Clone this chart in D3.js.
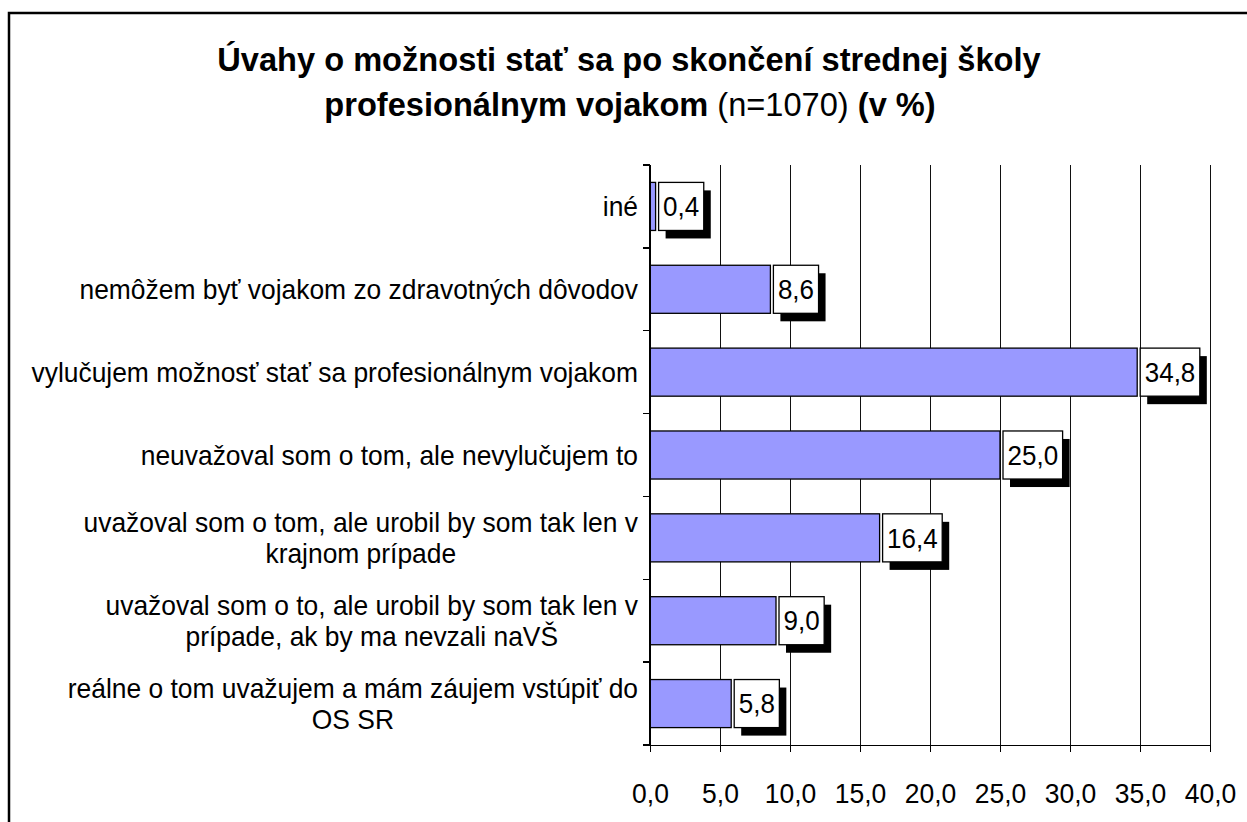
<!DOCTYPE html>
<html>
<head>
<meta charset="utf-8">
<script src="https://cdn.jsdelivr.net/npm/d3@7"></script>
<style>
  body { margin: 0; background: #fff; }
  svg { display: block; font-family: Arial, "Liberation Sans", sans-serif; }
  .grid line { stroke: #111; stroke-width: 1; shape-rendering: crispEdges; }
  .bar { fill: #9999ff; stroke: #000; stroke-width: 1.3; }
  .axis line, .axis path { stroke: #000; stroke-width: 1.5; shape-rendering: crispEdges; }
</style>
</head>
<body>
<svg id="chart" width="1247" height="822"></svg>
<script>

// categories, top to bottom ('|' = line break)
var categories = [
  'iné',
  'nemôžem byť vojakom zo zdravotných dôvodov',
  'vylučujem možnosť stať sa profesionálnym vojakom',
  'neuvažoval som o tom, ale nevylučujem to',
  'uvažoval som o tom, ale urobil by som tak len v|krajnom prípade',
  'uvažoval som o to, ale urobil by som tak len v|prípade, ak by ma nevzali naVŠ',
  'reálne o tom uvažujem a mám záujem vstúpiť do|OS SR'
];

var values = [0.4, 8.6, 34.8, 25.0, 16.4, 9.0, 5.8];

var xTicks = [0, 5, 10, 15, 20, 25, 30, 35, 40];

var titleLine1 = 'Úvahy o možnosti stať sa po skončení strednej školy',
    titleLine2 = [
      { text: 'profesionálnym vojakom', bold: true },
      { text: ' (n=1070) ', bold: false },
      { text: '(v %)', bold: true }
    ];

var STRETCH = 1.04,   // text in the source is a touch taller than wide
    PLOT = { left: 650, right: 1210, top: 165, bottom: 745 },
    LABEL_RIGHT = 638;

var skLocale = d3.formatLocale({ decimal: ',', thousands: ' ', grouping: [3], currency: ['', ' €'] }),
    fmt = skLocale.format('.1f');

var svg = d3.select('#chart');

// outer frame, runs off the right and bottom edges
svg.append('rect')
  .attr('x', 9).attr('y', 13)
  .attr('width', 1400).attr('height', 1000)
  .attr('fill', 'none')
  .attr('stroke', '#000')
  .attr('stroke-width', 2.5);

var x = d3.scaleLinear().domain([0, 40]).range([PLOT.left, PLOT.right]),
    y = d3.scaleBand().domain(d3.range(categories.length))
          .range([PLOT.top, PLOT.bottom])
          .paddingInner(0.42).paddingOuter(0.21);

// stretched text helper
var stretched = function(sel, tx, ty) {
  return sel.attr('transform', 'translate(' + tx + ',' + ty + ') scale(1,' + STRETCH + ')');
};

/** Title **/
stretched(svg.append('text'), 629, 71)
  .attr('text-anchor', 'middle')
  .attr('font-size', 32.6)
  .attr('font-weight', 'bold')
  .text(titleLine1);

var t2 = stretched(svg.append('text'), 630, 116)
  .attr('text-anchor', 'middle')
  .attr('font-size', 32.6);

t2.selectAll('tspan')
  .data(titleLine2)
  .enter().append('tspan')
    .attr('font-weight', function(d) { return d.bold ? 'bold' : 'normal'; })
    .style('white-space', 'pre')
    .text(function(d) { return d.text; });

/** Gridlines **/
svg.append('g').attr('class', 'grid')
  .selectAll('line')
  .data(xTicks.slice(1))
  .enter().append('line')
    .attr('x1', function(d) { return x(d); })
    .attr('x2', function(d) { return x(d); })
    .attr('y1', PLOT.top)
    .attr('y2', PLOT.bottom);

/** Bars **/
svg.append('g')
  .selectAll('rect')
  .data(values)
  .enter().append('rect')
    .attr('class', 'bar')
    .attr('x', x(0))
    .attr('y', function(d, i) { return y(i); })
    .attr('width', function(d) { return x(d) - x(0); })
    .attr('height', y.bandwidth());

/** Axes **/
var xAxis = d3.axisBottom(x)
      .tickValues(xTicks)
      .tickSize(7)
      .tickSizeOuter(0)
      .tickFormat(fmt),

    gx = svg.append('g')
      .attr('class', 'axis')
      .attr('transform', 'translate(0,' + PLOT.bottom + ')')
      .call(xAxis);

gx.selectAll('text')
  .attr('font-size', 26.5)
  .attr('fill', '#000')
  .attr('y', 0).attr('dy', 0)
  .attr('transform', 'translate(0,58) scale(1,' + STRETCH + ')');

// y axis: plain line with ticks at band boundaries
var gy = svg.append('g').attr('class', 'axis');

gy.append('line')
  .attr('x1', x(0)).attr('x2', x(0))
  .attr('y1', PLOT.top).attr('y2', PLOT.bottom);

gy.selectAll('.tick')
  .data(d3.range(categories.length + 1))
  .enter().append('line')
    .attr('class', 'tick')
    .attr('x1', x(0) - 7).attr('x2', x(0))
    .attr('y1', function(i) { return PLOT.top + i * y.step(); })
    .attr('y2', function(i) { return PLOT.top + i * y.step(); });

/** Category labels: centered block, right edge at LABEL_RIGHT **/
var LINE_H = 31;

categories.forEach(function(cat, i) {
  var lines = cat.split('|'),
      cy = y(i) + y.bandwidth() / 2,
      g = svg.append('g'),
      texts = lines.map(function(line, k) {
        var off = (k - (lines.length - 1) / 2) * LINE_H;
        return g.append('text')
          .attr('font-size', 26.4)
          .attr('text-anchor', 'middle')
          .attr('dy', '0.36em')
          .attr('data-y', cy + off)
          .text(line);
      }),
      widest = d3.max(texts, function(t) { return t.node().getComputedTextLength(); }),
      cx = LABEL_RIGHT - widest / 2;

  texts.forEach(function(t) {
    stretched(t, cx, +t.attr('data-y'));
  });
});

/** Data labels: boxed with a drop shadow **/
values.forEach(function(v, i) {
  var g = svg.append('g'),
      cy = y(i) + y.bandwidth() / 2,
      left = x(v) + 3,
      label = g.append('text')
        .attr('font-size', 26)
        .attr('text-anchor', 'middle')
        .attr('dy', '0.36em')
        .text(fmt(v)),
      w = label.node().getComputedTextLength() + 9,
      h = y.bandwidth();

  g.insert('rect', 'text')
    .attr('x', left + 7).attr('y', cy - h / 2 + 8)
    .attr('width', w).attr('height', h)
    .attr('fill', '#000');

  g.insert('rect', 'text')
    .attr('x', left).attr('y', cy - h / 2)
    .attr('width', w).attr('height', h)
    .attr('fill', '#fff')
    .attr('stroke', '#000')
    .attr('stroke-width', 1.3);

  stretched(label, left + w / 2, cy);
});

</script>
</body>
</html>
